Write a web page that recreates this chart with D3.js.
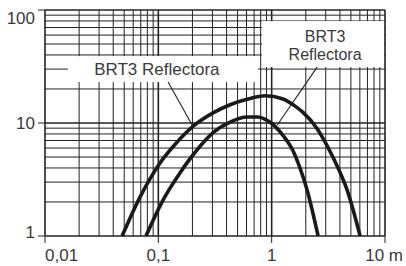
<!DOCTYPE html>
<html>
<head>
<meta charset="utf-8">
<script src="https://cdn.jsdelivr.net/npm/d3@7"></script>
<style>
  html, body { margin: 0; padding: 0; background: #fff; }
  svg text { font-family: "Liberation Sans", Arial, sans-serif; fill: #3a3a3a; }
</style>
</head>
<body>
<div id="chart"></div>
<script>
// distance (m) vs illuminance, log-log
const distOuter = [0.0479, 0.0689, 0.1035, 0.146, 0.202, 0.304, 0.43, 0.607, 0.875, 1.26, 1.61, 1.89, 2.52, 3.08, 3.78, 4.62, 6.03];
const luxOuter  = [1, 2.21, 4.43, 6.76, 9.33, 12.3, 14.5, 16.2, 17.4, 16.3, 14.1, 12.4, 8.9, 6.3, 4.17, 2.57, 1];

const distInner = [0.0778, 0.11, 0.155, 0.219, 0.304, 0.43, 0.607, 0.743, 0.92, 1.26, 1.55, 1.78, 2.05, 2.57];
const luxInner  = [1, 2.08, 3.61, 5.77, 8.22, 10.2, 11.3, 11.3, 10.5, 7.76, 5.62, 3.98, 2.57, 1];

const xTicks = [0.01, 0.1, 1, 10];
const xTickLabels = ['0,01', '0,1', '1', '10 m'];
const yTicks = [1, 10, 100];
const yTickLabels = ['1', '10', '100'];

const labelOuter = 'BRT3 Reflectora';
const labelInner = ['BRT3', 'Reflectora'];

const width = 406, height = 266;
const margin = { top: 10, right: 21, bottom: 30, left: 45 };
const w = width - margin.left - margin.right;
const h = height - margin.top - margin.bottom;

const x = d3.scaleLog().domain([0.01, 10]).range([0, w]);
const y = d3.scaleLog().domain([1, 100]).range([h, 0]);

const svg = d3.select('#chart')
  .append('svg')
  .attr('width', width)
  .attr('height', height);

const g = svg.append('g')
  .attr('transform', `translate(${margin.left},${margin.top})`);

// minor + major grid, 1..9 per decade
const gridX = [], gridY = [];
for (let d = 0.01; d < 10; d *= 10) {
  for (let k = 1; k < 10; k++) gridX.push(+(d * k).toPrecision(3));
}
gridX.push(10);
for (let d = 1; d < 100; d *= 10) {
  for (let k = 1; k < 10; k++) gridY.push(+(d * k).toPrecision(3));
}
gridY.push(100);

const isDecade = v => Math.abs(Math.log10(v) - Math.round(Math.log10(v))) < 1e-6;

g.append('g').selectAll('line')
  .data(gridX)
  .join('line')
  .attr('x1', d => x(d)).attr('x2', d => x(d))
  .attr('y1', 0).attr('y2', h)
  .attr('stroke', '#222')
  .attr('stroke-width', d => isDecade(d) ? 1.6 : 1);

g.append('g').selectAll('line')
  .data(gridY)
  .join('line')
  .attr('x1', 0).attr('x2', w)
  .attr('y1', d => y(d)).attr('y2', d => y(d))
  .attr('stroke', '#222')
  .attr('stroke-width', d => isDecade(d) ? 1.6 : 1);

// axes: short ticks + labels
g.append('g').selectAll('line')
  .data(xTicks)
  .join('line')
  .attr('x1', d => x(d)).attr('x2', d => x(d))
  .attr('y1', h).attr('y2', h + 7)
  .attr('stroke', '#222');

g.append('g').selectAll('text')
  .data(xTicks)
  .join('text')
  .attr('x', (d, i) => i === xTicks.length - 1 ? x(d) + 18 : x(d))
  .attr('y', h + 25)
  .attr('text-anchor', (d, i) => i === 0 ? 'start' : i === xTicks.length - 1 ? 'end' : 'middle')
  .style('font-size', '17px')
  .text((d, i) => xTickLabels[i]);

g.append('g').selectAll('line')
  .data(yTicks)
  .join('line')
  .attr('x1', -7).attr('x2', 0)
  .attr('y1', d => y(d)).attr('y2', d => y(d))
  .attr('stroke', '#222');

// top label sits below its tick, bottom one a bit above
g.append('g').selectAll('text')
  .data(yTicks)
  .join('text')
  .attr('x', -10)
  .attr('y', (d, i) => y(d) + (i === 2 ? 8 : i === 0 ? -4 : 0))
  .attr('dy', '0.35em')
  .attr('text-anchor', 'end')
  .style('font-size', '17px')
  .text((d, i) => yTickLabels[i]);

// curves
const line = d3.line()
  .x(d => x(d[0]))
  .y(d => y(d[1]))
  .curve(d3.curveMonotoneX);

const outer = distOuter.map((d, i) => [d, luxOuter[i]]);
const inner = distInner.map((d, i) => [d, luxInner[i]]);

[outer, inner].forEach(s => {
  g.append('path')
    .datum(s)
    .attr('fill', 'none')
    .attr('stroke', '#1a1a1a')
    .attr('stroke-width', 3.6)
    .attr('d', line);
});

// label for outer curve: white box over the grid + leader
const lx = x(0.097), ly = y(30);
g.append('rect')
  .attr('x', lx - 89).attr('y', ly - 13)
  .attr('width', 190).attr('height', 26)
  .attr('fill', '#fff');
g.append('text')
  .attr('x', lx).attr('y', ly)
  .attr('dy', '0.36em')
  .attr('text-anchor', 'middle')
  .style('font-size', '17px')
  .text(labelOuter);
g.append('line')
  .attr('x1', x(0.122)).attr('y1', ly + 13)
  .attr('x2', x(outer[4][0])).attr('y2', y(outer[4][1]))
  .attr('stroke', '#222').attr('stroke-width', 1.1);

// label for inner curve
const rx = x(2.96), ry = y(60);
g.append('rect')
  .attr('x', x(0.82)).attr('y', ry - 14)
  .attr('width', w - x(0.82) - 1).attr('height', 46)
  .attr('fill', '#fff');
g.append('text')
  .attr('text-anchor', 'middle')
  .style('font-size', '16px')
  .selectAll('tspan')
  .data(labelInner)
  .join('tspan')
  .attr('x', rx)
  .attr('y', (d, i) => ry + 7 + i * 18)
  .text(d => d);
g.append('line')
  .attr('x1', x(2.52)).attr('y1', ry + 32)
  .attr('x2', x(1.12)).attr('y2', y(9.6))
  .attr('stroke', '#222').attr('stroke-width', 1.1);
</script>
</body>
</html>
